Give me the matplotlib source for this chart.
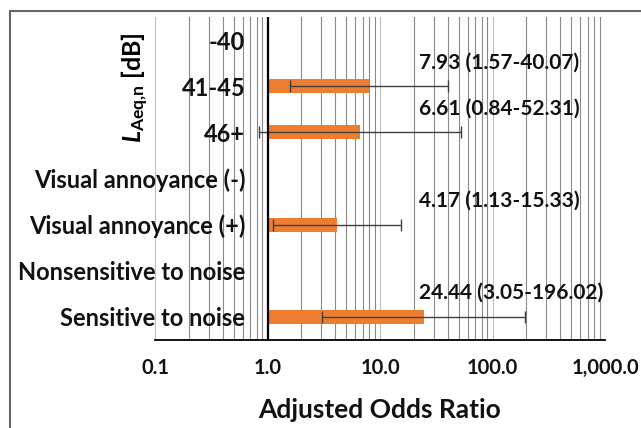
import numpy as np
import matplotlib.pyplot as plt
from matplotlib.patches import Rectangle

plt.rcParams["font.family"] = ["Lato", "DejaVu Sans"]
plt.rcParams["font.weight"] = "bold"
plt.rcParams["mathtext.fontset"] = "custom"
plt.rcParams["mathtext.rm"] = "Lato:bold"
plt.rcParams["mathtext.it"] = "Lato:bold:italic"

# data
categories = ["-40", "41-45", "46+", "Visual annoyance (-)", "Visual annoyance (+)",
              "Nonsensitive to noise", "Sensitive to noise"]
odds = [np.nan, 7.93, 6.61, np.nan, 4.17, np.nan, 24.44]
ci_low = [np.nan, 1.57, 0.84, np.nan, 1.13, np.nan, 3.05]
ci_high = [np.nan, 40.07, 52.31, np.nan, 15.33, np.nan, 196.02]
labels = ["", "7.93 (1.57-40.07)", "6.61 (0.84-52.31)", "", "4.17 (1.13-15.33)",
          "", "24.44 (3.05-196.02)"]
xticks = [0.1, 1.0, 10.0, 100.0, 1000.0]
xtick_labels = ["0.1", "1.0", "10.0", "100.0", "1,000.0"]

fig = plt.figure(figsize=(6.41, 4.28), dpi=100)
ax = fig.add_axes([155 / 641, 1 - 340 / 428, 450 / 641, 323 / 428])

y = np.arange(len(categories))
odds_a = np.array(odds)
lo = np.array(ci_low)
hi = np.array(ci_high)

# bars start at 1.0 (where the value axis crosses)
ax.barh(y, odds_a - 1, left=1, height=0.3, color="#ED7D31", zorder=3)
err = np.vstack([odds_a - lo, hi - odds_a])
ax.errorbar(odds_a, y, xerr=err, fmt="none", ecolor="#404040", elinewidth=1,
            capsize=4, capthick=1, zorder=4)

for i, t in enumerate(labels):
    if t:
        ax.text(22, i - 0.52, t, ha="left", va="center", fontsize=15,
                fontweight="bold", color="#111111", zorder=5)

ax.set_xscale("log")
ax.set_xlim(0.1, 1000)
ax.set_ylim(len(categories) - 0.5, -0.5)
ax.set_xticks(xticks)
ax.set_xticklabels(xtick_labels, fontsize=14.5, fontweight="bold", color="#111111")
ax.set_yticks(y)
ax.set_yticklabels(categories, fontsize=17, fontweight="bold", color="#111111")
ax.tick_params(axis="both", which="both", length=0)
ax.tick_params(axis="x", pad=13)
# category labels sit beside the axis crossing at 1.0, over the grid
ax.tick_params(axis="y", pad=-65)
for lab in ax.get_yticklabels():
    lab.set_zorder(6)

ax.grid(True, which="minor", axis="x", color="#8a8a8a", lw=0.8, zorder=0)
ax.grid(True, which="major", axis="x", color="#bdbdbd", lw=0.8, zorder=0)
ax.axvline(1, color="black", lw=1.6, zorder=4)

for s in ["top", "right", "left"]:
    ax.spines[s].set_visible(False)
ax.spines["bottom"].set_color("black")
ax.spines["bottom"].set_linewidth(1.3)

ax.set_xlabel("Adjusted Odds Ratio", fontsize=19, fontweight="bold", labelpad=14,
              color="#111111")

fig.text(135 / 641, 1 - 88 / 428, r"$\mathit{L}_{\mathrm{Aeq{,}n}}$ [dB]",
         rotation=90, ha="center", va="center", fontsize=18, fontweight="bold")

# outer frame of the figure
fig.patches.append(Rectangle((10 / 641, -0.1), 1.2, 1 - 11 / 428 + 0.1,
                             transform=fig.transFigure, fill=False,
                             edgecolor="#666666", lw=1.5))

fig.savefig("out.png", dpi=100)
